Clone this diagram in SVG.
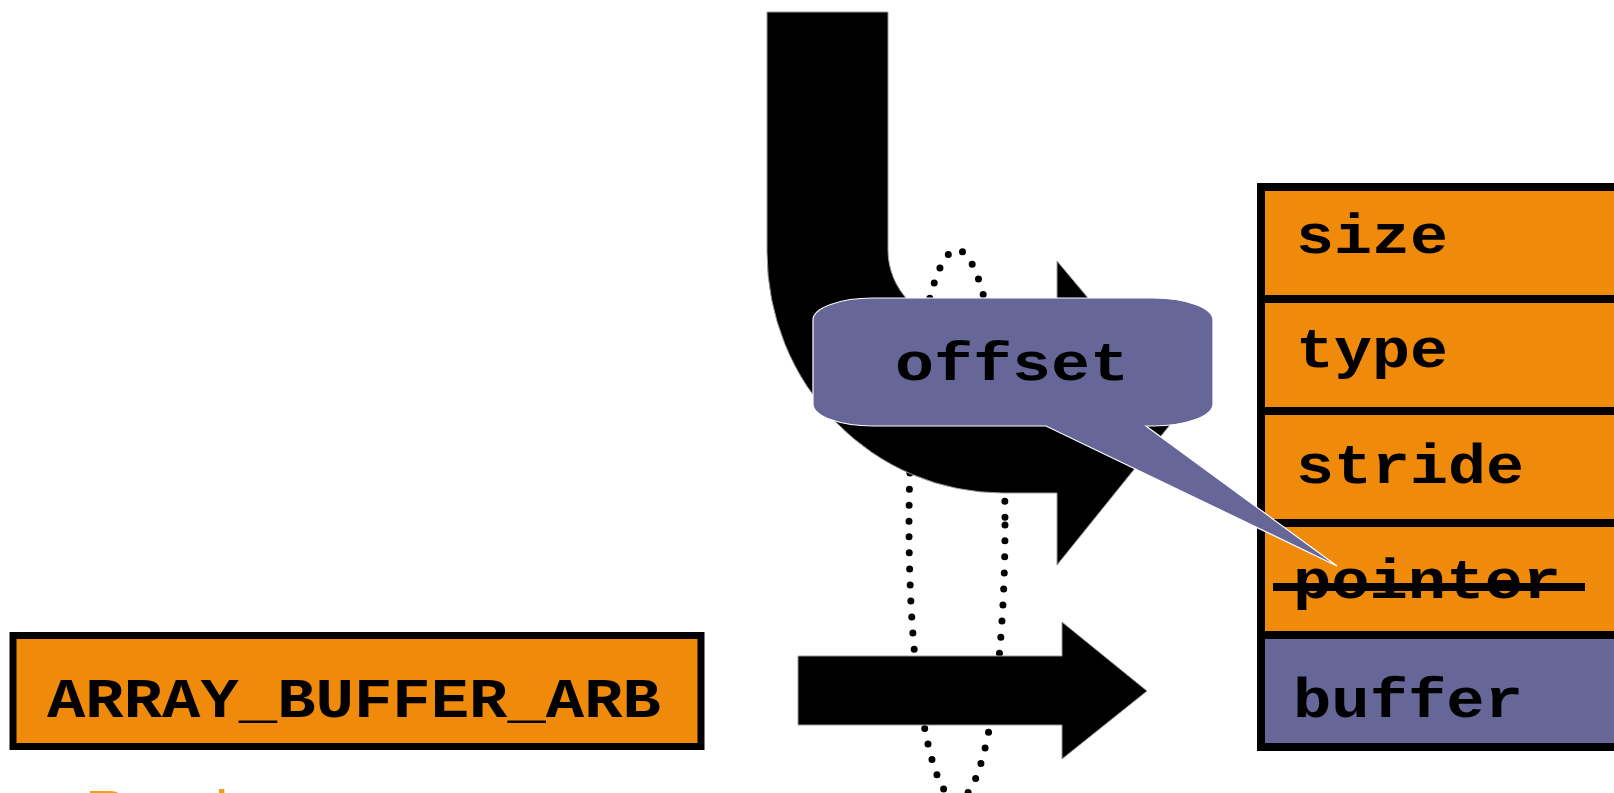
<svg xmlns="http://www.w3.org/2000/svg" width="1614" height="793" viewBox="0 0 1614 793">
  <style>
    .mono { font-family: "Liberation Mono", "Courier New", monospace; font-weight: bold; fill: #000; }
    .cell { fill: #EF8A0B; stroke: #000; stroke-width: 8; }
    .cellBlue { fill: #666699; stroke: #000; stroke-width: 8; }
    .arrow { fill: #000; stroke: #999; stroke-width: 1; }
  </style>
  <rect width="1614" height="793" fill="#fff"/>

  <g id="connectors">
    <ellipse id="loop" cx="957" cy="525" rx="48" ry="275" fill="none" stroke="#000" stroke-width="7" stroke-linecap="round" stroke-dasharray="0 16"/>
    <path id="bent-arrow" class="arrow" d="M 767 12 H 888 V 250 A 73 73 0 0 0 961 323 H 1057 V 261 L 1182 410 L 1057 565 V 493 H 1003 A 236 241 0 0 1 767 252 Z"/>
    <path id="straight-arrow" class="arrow" d="M 798 656 H 1062 V 622 L 1147 691 L 1062 759 V 725 H 798 Z"/>
  </g>

  <g id="array-buffer">
    <rect x="13" y="635.5" width="688" height="111" fill="#EF8A0B" stroke="#000" stroke-width="7"/>
    <text class="mono" x="47" y="717" font-size="55" textLength="614" lengthAdjust="spacingAndGlyphs">ARRAY_BUFFER_ARB</text>
  </g>

  <g id="read-text">
    <text x="85" y="832" font-family="Liberation Sans, Arial, sans-serif" font-size="60" fill="#EFA00B">Read</text>
  </g>

  <g id="table">
    <g id="row-size">
      <rect class="cell" x="1261" y="187" width="420" height="112"/>
      <text class="mono" x="1296" y="253" font-size="56" textLength="152" lengthAdjust="spacingAndGlyphs">size</text>
    </g>
    <g id="row-type">
      <rect class="cell" x="1261" y="299" width="420" height="112"/>
      <text class="mono" x="1296" y="367" font-size="56" textLength="152" lengthAdjust="spacingAndGlyphs">type</text>
    </g>
    <g id="row-stride">
      <rect class="cell" x="1261" y="411" width="420" height="112"/>
      <text class="mono" x="1296" y="483" font-size="56" textLength="228" lengthAdjust="spacingAndGlyphs">stride</text>
    </g>
    <g id="row-pointer">
      <rect class="cell" x="1261" y="523" width="420" height="112"/>
      <text class="mono" x="1293" y="598" font-size="56" textLength="268" lengthAdjust="spacingAndGlyphs">pointer</text>
      <line x1="1273" y1="587" x2="1585" y2="587" stroke="#000" stroke-width="8"/>
    </g>
    <g id="row-buffer">
      <rect class="cellBlue" x="1261" y="635" width="420" height="112"/>
      <text class="mono" x="1293" y="717" font-size="56" textLength="230" lengthAdjust="spacingAndGlyphs">buffer</text>
    </g>
  </g>

  <g id="offset-callout">
    <path d="M 873 298 H 1153 A 60 22 0 0 1 1213 320 V 404 A 60 22 0 0 1 1153 426 H 1146 L 1337 566 L 1046 426 H 873 A 60 22 0 0 1 813 404 V 320 A 60 22 0 0 1 873 298 Z" fill="#666699" stroke="#fff" stroke-width="1.2"/>
    <text class="mono" x="895" y="380" font-size="53" textLength="234" lengthAdjust="spacingAndGlyphs">offset</text>
  </g>
</svg>
